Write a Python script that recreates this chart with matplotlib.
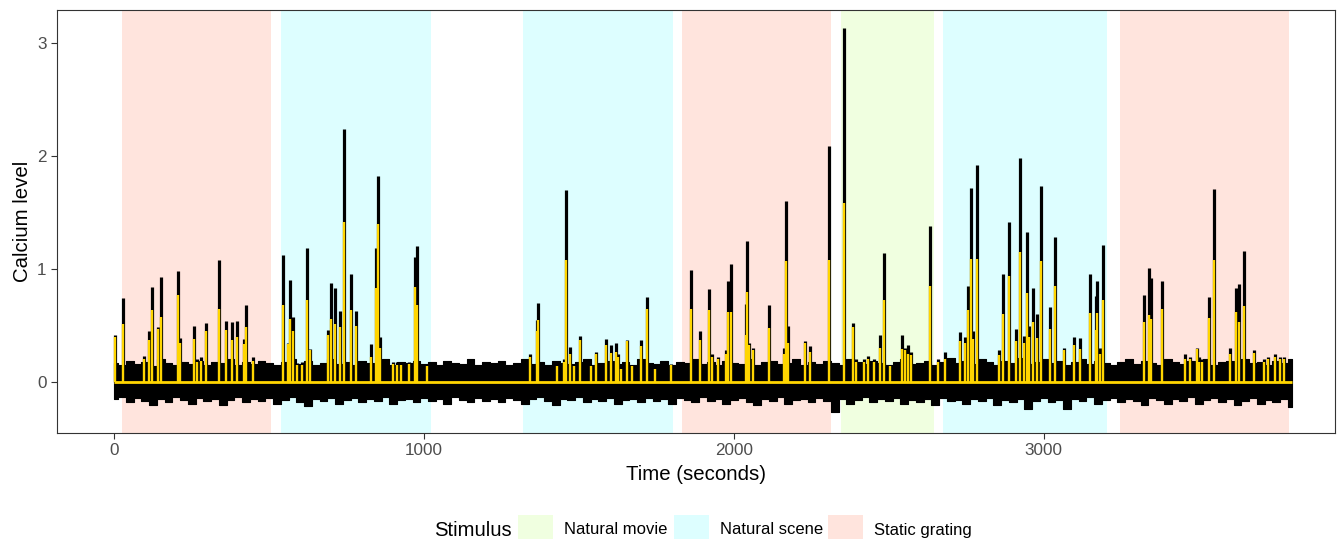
import numpy as np
import matplotlib.pyplot as plt
from matplotlib.patches import Rectangle

plt.rcParams['font.family'] = ['Liberation Sans', 'DejaVu Sans']

# stimulus epochs (start, end, kind)
epoch_start = [26, 539, 1319, 1832, 2345, 2674, 3245]
epoch_end = [506, 1023, 1803, 2313, 2645, 3203, 3790]
epoch_kind = ['Static grating', 'Natural scene', 'Natural scene', 'Static grating',
              'Natural movie', 'Natural scene', 'Static grating']
stim_names = ['Natural movie', 'Natural scene', 'Static grating']
stim_colors = {'Natural movie': '#F0FFE0', 'Natural scene': '#DDFEFF', 'Static grating': '#FFE4DD'}

# spikes: time, raw calcium peak (black), deconvolved peak (yellow)
spike_t = [2, 28, 95, 113, 122, 142, 152, 206, 213, 256, 267, 281, 296, 339, 359, 380, 397, 419, 425, 447,
           543, 560, 568, 576, 590, 605, 621, 632, 691, 700, 713, 730, 741, 765, 781, 829, 845, 851, 856,
           900, 912, 925, 950, 969, 977, 1010,
           1342, 1365, 1369, 1430, 1450, 1459, 1471, 1483, 1504, 1537, 1556, 1586, 1603, 1618, 1625, 1636,
           1655, 1672, 1699, 1720, 1745, 1797,
           1860, 1890, 1920, 1930, 1950, 1975, 1982, 1992, 2038, 2043, 2050, 2060, 2112, 2160, 2168, 2175,
           2229, 2247, 2307,
           2355, 2385, 2395, 2420, 2432, 2451, 2471, 2483, 2505, 2543, 2552, 2561, 2572, 2632, 2660,
           2680, 2731, 2747, 2754, 2766, 2772, 2786, 2854, 2867, 2887, 2911, 2924, 2936, 2947, 2952, 2965,
           2979, 2991, 3019, 3037, 3065, 3099, 3117, 3149, 3167, 3173, 3183, 3192,
           3323, 3339, 3345, 3381, 3455, 3473, 3493, 3500, 3510, 3532, 3549, 3600, 3620, 3631, 3647, 3677,
           3710, 3725, 3745, 3762, 3775]
spike_black = [0.42, 0.74, 0.23, 0.45, 0.84, 0.49, 0.93, 0.98, 0.39, 0.50, 0.20, 0.22, 0.52, 1.08, 0.54, 0.53, 0.54, 0.38, 0.68, 0.22,
               1.12, 0.35, 0.90, 0.58, 0.17, 0.18, 1.19, 0.29, 0.46, 0.88, 0.83, 0.63, 2.24, 0.96, 0.63, 0.34, 1.19, 1.82, 0.40,
               0.18, 0.18, 0.17, 0.18, 1.11, 1.20, 0.16,
               0.25, 0.55, 0.70, 0.15, 0.20, 1.70, 0.31, 0.16, 0.41, 0.15, 0.27, 0.38, 0.33, 0.35, 0.25, 0.12,
               0.37, 0.15, 0.37, 0.75, 0.12, 0.16,
               0.99, 0.45, 0.82, 0.25, 0.22, 0.28, 0.89, 1.04, 0.69, 1.25, 0.35, 0.30, 0.68, 0.30, 1.60, 0.50,
               0.36, 0.32, 2.09,
               3.13, 0.52, 0.20, 0.20, 0.23, 0.20, 0.42, 1.14, 0.15, 0.42, 0.30, 0.33, 0.27, 1.38, 0.20,
               0.27, 0.44, 0.40, 0.85, 1.72, 0.45, 1.92, 0.28, 0.96, 1.42, 0.47, 1.98, 0.41, 1.33, 0.50, 0.83,
               0.60, 1.73, 0.66, 1.28, 0.30, 0.40, 0.39, 0.96, 0.76, 0.89, 0.30, 1.21,
               0.77, 1.01, 0.92, 0.89, 0.25, 0.22, 0.30, 0.22, 0.20, 0.75, 1.71, 0.30, 0.83, 0.87, 1.16, 0.28,
               0.20, 0.22, 0.25, 0.22, 0.22]
spike_yellow = [0.40, 0.51, 0.20, 0.37, 0.64, 0.47, 0.58, 0.77, 0.35, 0.38, 0.18, 0.19, 0.45, 0.65, 0.46, 0.37, 0.40, 0.34, 0.49, 0.19,
                0.68, 0.34, 0.56, 0.45, 0.15, 0.15, 0.73, 0.28, 0.42, 0.56, 0.51, 0.49, 1.42, 0.64, 0.50, 0.22, 0.83, 1.40, 0.30,
                0.16, 0.15, 0.15, 0.16, 0.84, 0.68, 0.14,
                0.22, 0.45, 0.55, 0.14, 0.18, 1.08, 0.25, 0.14, 0.37, 0.14, 0.25, 0.33, 0.26, 0.27, 0.22, 0.12,
                0.36, 0.14, 0.32, 0.65, 0.12, 0.15,
                0.65, 0.37, 0.64, 0.22, 0.20, 0.25, 0.62, 0.62, 0.42, 0.80, 0.33, 0.28, 0.48, 0.25, 1.07, 0.35,
                0.35, 0.27, 1.08,
                1.58, 0.49, 0.18, 0.18, 0.20, 0.18, 0.30, 0.73, 0.14, 0.29, 0.28, 0.25, 0.24, 0.85, 0.18,
                0.20, 0.36, 0.35, 0.64, 1.09, 0.38, 1.09, 0.24, 0.60, 0.94, 0.36, 1.15, 0.35, 0.79, 0.40, 0.53,
                0.39, 1.07, 0.47, 0.85, 0.28, 0.33, 0.29, 0.61, 0.46, 0.61, 0.25, 0.73,
                0.53, 0.59, 0.56, 0.65, 0.20, 0.20, 0.29, 0.18, 0.18, 0.57, 1.08, 0.25, 0.62, 0.53, 0.67, 0.26,
                0.18, 0.20, 0.22, 0.20, 0.20]

# envelope of the baseline noise, read every 25 s
noise_t = list(range(0, 3801, 25))
noise_hi = [0.17, 0.15, 0.19, 0.16, 0.18, 0.14, 0.20, 0.17, 0.15, 0.18,
            0.16, 0.19, 0.15, 0.18, 0.17, 0.20, 0.15, 0.18, 0.16, 0.19,
            0.17, 0.15, 0.18, 0.20, 0.16, 0.19, 0.15, 0.17, 0.20, 0.16,
            0.18, 0.15, 0.19, 0.17, 0.16, 0.20, 0.15, 0.18, 0.17, 0.19,
            0.16, 0.18, 0.15, 0.19, 0.17, 0.16, 0.20, 0.15, 0.18, 0.17,
            0.19, 0.15, 0.17, 0.20, 0.16, 0.18, 0.15, 0.19, 0.17, 0.16,
            0.18, 0.20, 0.15, 0.17, 0.19, 0.16, 0.18, 0.15, 0.20, 0.17,
            0.16, 0.19, 0.15, 0.18, 0.17, 0.20, 0.16, 0.18, 0.15, 0.19,
            0.17, 0.16, 0.20, 0.15, 0.18, 0.19, 0.16, 0.17, 0.20, 0.15,
            0.18, 0.16, 0.19, 0.17, 0.15, 0.20, 0.18, 0.16, 0.19, 0.17,
            0.15, 0.18, 0.20, 0.16, 0.17, 0.19, 0.15, 0.18, 0.21, 0.17,
            0.19, 0.16, 0.20, 0.18, 0.15, 0.19, 0.17, 0.21, 0.16, 0.18,
            0.20, 0.17, 0.19, 0.15, 0.18, 0.20, 0.16, 0.19, 0.17, 0.15,
            0.18, 0.20, 0.16, 0.19, 0.17, 0.15, 0.20, 0.18, 0.16, 0.19,
            0.17, 0.20, 0.15, 0.18, 0.19, 0.16, 0.20, 0.17, 0.18, 0.15,
            0.19, 0.17, 0.20]
noise_lo = [-0.15, -0.13, -0.18, -0.14, -0.17, -0.20, -0.15, -0.18, -0.13, -0.16,
            -0.19, -0.14, -0.17, -0.15, -0.20, -0.16, -0.13, -0.18, -0.15, -0.17,
            -0.14, -0.19, -0.16, -0.13, -0.18, -0.21, -0.15, -0.17, -0.14, -0.19,
            -0.16, -0.14, -0.18, -0.15, -0.17, -0.13, -0.19, -0.16, -0.15, -0.18,
            -0.14, -0.17, -0.15, -0.19, -0.13, -0.16, -0.18, -0.14, -0.17, -0.15,
            -0.18, -0.14, -0.16, -0.19, -0.15, -0.13, -0.17, -0.20, -0.15, -0.16,
            -0.13, -0.18, -0.15, -0.17, -0.14, -0.19, -0.16, -0.15, -0.18, -0.14,
            -0.17, -0.15, -0.19, -0.14, -0.16, -0.18, -0.13, -0.17, -0.15, -0.19,
            -0.16, -0.14, -0.18, -0.20, -0.15, -0.17, -0.13, -0.19, -0.16, -0.15,
            -0.18, -0.14, -0.17, -0.26, -0.15, -0.19, -0.16, -0.13, -0.18, -0.15,
            -0.17, -0.14, -0.19, -0.16, -0.18, -0.15, -0.20, -0.14, -0.17, -0.16,
            -0.19, -0.15, -0.17, -0.14, -0.20, -0.16, -0.18, -0.15, -0.24, -0.17,
            -0.14, -0.18, -0.16, -0.24, -0.15, -0.17, -0.13, -0.19, -0.16, -0.14,
            -0.18, -0.15, -0.17, -0.20, -0.14, -0.16, -0.19, -0.15, -0.17, -0.13,
            -0.19, -0.16, -0.14, -0.18, -0.15, -0.20, -0.17, -0.14, -0.19, -0.16,
            -0.18, -0.15, -0.22]

W, H = 1338, 539
fig = plt.figure(figsize=(W / 100, H / 100), dpi=100)
ax = fig.add_axes([57 / W, 1 - 433 / H, (1335 - 57) / W, (433 - 10) / H])

for s, e, k in zip(epoch_start, epoch_end, epoch_kind):
    ax.axvspan(s, e, color=stim_colors[k], lw=0, zorder=0)

ax.fill_between(noise_t, noise_lo, noise_hi, step='mid', color='black', lw=0.8, zorder=1)
ax.vlines(spike_t, 0, spike_black, color='black', lw=2.3, zorder=2)
ax.vlines(spike_t, 0, spike_yellow, color='#FFD500', lw=1.7, zorder=3)
ax.hlines(0, noise_t[0], noise_t[-1], color='#FFD500', lw=2.0, zorder=3)

ax.set_xlim(-185, 3940)
ax.set_ylim(-0.45, 3.29)
ax.set_xticks([0, 1000, 2000, 3000])
ax.set_yticks([0, 1, 2, 3])
ax.tick_params(labelsize=12.3, labelcolor='#4D4D4D', color='#333333', length=4, width=0.8)
for sp in ax.spines.values():
    sp.set_color('#333333')
    sp.set_linewidth(0.8)
ax.set_xlabel('Time (seconds)', fontsize=14.7, labelpad=5)
ax.set_ylabel('Calcium level', fontsize=14.7, labelpad=4)

# legend at the bottom
fig.text(434 / W, 1 - 530 / H, 'Stimulus', fontsize=14.6, va='center', ha='left')
key_x = [518, 674, 828]
for kx, name in zip(key_x, stim_names):
    fig.add_artist(Rectangle((kx / W, 0), 35 / W, 24 / H, transform=fig.transFigure,
                             color=stim_colors[name], lw=0))
    fig.text((kx + 46) / W, 1 - 530 / H, name, fontsize=12, va='center', ha='left')

fig.savefig('out.png', dpi=100)
